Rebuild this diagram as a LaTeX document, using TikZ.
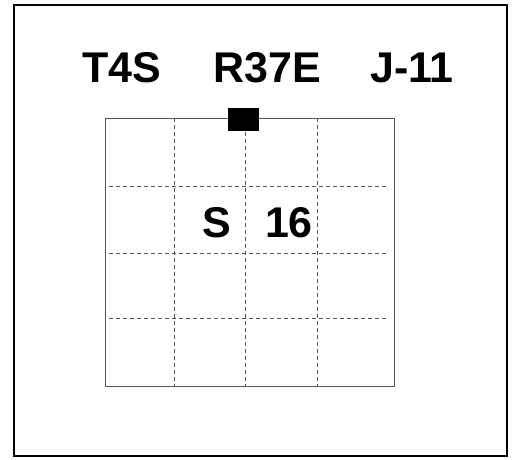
\documentclass[tikz,border=0pt]{standalone}
\usepackage{fontspec}
\setmainfont{Liberation Sans}
\usepackage{xcolor}
\usepackage{tikz}
\usetikzlibrary{positioning}
\definecolor{gridLine}{HTML}{555555}

\begin{document}
\begin{tikzpicture}[
    x=1pt, y=-1pt,
    frame/.style={draw=black, line width=2.4pt},
    cellgrid/.style={draw=gridLine, line width=0.6pt, dash pattern=on 4pt off 3pt},
    boardedge/.style={draw=gridLine, line width=0.8pt},
    tag/.style={font=\fontsize{43}{50}\selectfont\bfseries, inner sep=0pt},
    marker/.style={rectangle, fill=black, minimum width=31pt, minimum height=23pt, inner sep=0pt},
]
\useasboundingbox (0,0) rectangle (514,459);

% ── Frame ──
\draw[frame] (14,5) rectangle (507,456);

% ── Labels ──
\node[tag] (t4s) at (122,68) {T4S};
\node[tag] (r37e) at (267,68) {R37E};
\node[tag] (j11) at (412,68) {J-11};

% ── Board ──
\draw[boardedge] (105,118) rectangle (394,386);
\foreach \x in {174,245,317}
  \draw[cellgrid] (\x,118) -- (\x,386);
\foreach \y in {186,253,318}
  \draw[cellgrid] (109,\y) -- (387,\y);
\node[marker] (port) at (243,119.5) {};

% ── Cell text ──
\node[tag] (s) at (217,223) {S};
\node[tag] (sixteen) at (289,223) {16};

\end{tikzpicture}
\end{document}
